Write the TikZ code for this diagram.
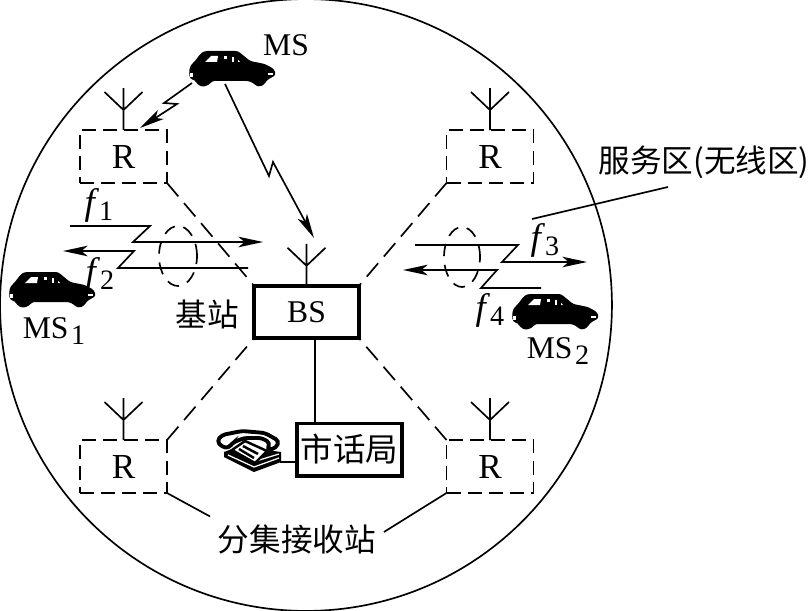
\documentclass[tikz,border=0pt]{standalone}
\usepackage{fontspec}
\setmainfont{Liberation Serif}
\newfontfamily\cjk{Noto Sans CJK SC}
\usepackage{tikz}
\usetikzlibrary{arrows.meta}
\newcommand{\subnum}[1]{\raisebox{-0.4ex}{\fontsize{16}{16}\selectfont #1}}
\tikzset{
    autoicon/.pic={
        \fill[rounded corners=1.5pt] (-43,4) -- (-42,-3) -- (-37,-8) -- (-31,-16) -- (-27,-18) -- (6,-18) -- (18,-8) -- (33,-5) -- (42,0) -- (44,6) -- (35,11) -- (32,16) -- (26,18) -- (21,14) -- (17,12) -- (-20,12) -- (-23,16) -- (-30,18) -- (-35,15) -- (-37,11) -- (-42,10) -- cycle;
        \fill[white] (-27,-7) -- (-21,-13) -- (-14,-13) -- (-15,-7) -- cycle;
        \fill[white] (-8,-13) -- (-5,-13) -- (-5,-10) -- (-8,-10) -- cycle;
        \fill[white] (0,-12) -- (2,-12) -- (2,-7) -- (0,-7) -- cycle;
        \fill[white] (6,-9) -- (8,-7) -- (6,-7) -- cycle;
        \fill[white] (36,4) -- (41,4) -- (41,6) -- (36,6) -- cycle;
        \fill[white] (-42,4) -- (-39,4) -- (-39,8) -- (-42,8) -- cycle;
    },
    phoneicon/.pic={
        \fill (-24,0) -- (-16,-3) -- (19,-2) -- (33,0) -- (33,10) -- (6,20) -- (-24,5) -- cycle;
        \draw[white, line width=0.7pt] (-20,3) -- (6,15) -- (31,6) (8,9) -- (31,2);
        \draw[fill=white, line width=1.4pt] (-16,-2) -- (-3,-11) -- (19,-1) -- (7,11) -- cycle;
        \draw[line width=1.4pt] (-9,-3) -- (6,6) (-5,-6) -- (10,2);
        \draw[fill=white, line width=2.2pt, rounded corners=2pt] (-31,-11) -- (-26,-17) -- (-6,-21) -- (17,-19) -- (31,-11) -- (28,-4) -- (19,-2) -- (22,-9) -- (14,-14) -- (-4,-14) -- (-16,-9) -- (-19,-4) -- (-26,-5) -- cycle;
    }
}

\begin{document}
\begin{tikzpicture}[x=0.02cm, y=-0.02cm, line width=0.95pt, font=\fontsize{18}{18}\selectfont,
    rbox/.style={draw, dash pattern=on 8pt off 4pt, minimum width=1.74cm, minimum height=1.06cm, inner sep=0pt, outer sep=0pt, font=\fontsize{20}{20}\selectfont},
    bbox/.style={draw, line width=2pt, minimum width=2.1cm, minimum height=1.05cm, inner sep=0pt, outer sep=0pt},
    backhaul/.style={dash pattern=on 10pt off 5pt},
    radio/.style={-{Stealth[length=14pt, width=6pt, inset=3.5pt]}},
    beam/.style={dash pattern=on 7pt off 5pt},
    txt/.style={inner sep=0pt},
    fsym/.style={inner sep=0pt, font=\fontsize{21}{21}\selectfont}]
    \useasboundingbox (0,0) rectangle (811,611);
    \draw (306,305) circle[radius=6.12cm];

    \node[rbox] (RA) at (123.5,156.5) {R};
    \node[rbox] (RB) at (490,156.5) {R};
    \node[rbox] (RC) at (123.5,466.5) {R};
    \node[rbox] (RD) at (490,466.5) {R};
    \node[bbox] (BS) at (306.5,312) {BS};
    \node[bbox] (CO) at (349.5,449.5) {\cjk\fontsize{18.5}{18}\selectfont 市话局};
    \node[txt, inner sep=4pt] (DIV) at (297,539) {\cjk 分集接收站};
    \node[txt] (BSL) at (207,314) {\cjk 基站};
    \node[txt] (AREA) at (704,162) {\cjk 服务区(无线区)};
    \node[txt] (MS) at (286,45) {MS};
    \node[txt] (MSA) at (54,331) {MS\kern1.5pt\subnum{1}};
    \node[txt] (MSB) at (558,351) {MS\kern1.5pt\subnum{2}};
    \node[fsym] (FA) at (99,205) {\textit{f}\subnum{1}};
    \node[fsym] (FB) at (100,274) {\textit{f}\subnum{2}};
    \node[fsym] (FC) at (545,240) {\textit{f}\subnum{3}};
    \node[fsym] (FD) at (490,310) {\textit{f}\subnum{4}};

    \pic at (232,69) {autoicon};
    \pic at (52,290) {autoicon};
    \pic at (555,312) {autoicon};
    \pic at (248,452) {phoneicon};

    \foreach \n in {RA,RB,RC,RD,BS}
        \draw (\n.north) -- ++(0,-42) ++(-19,4) -- ++(19,18) -- ++(19,-18);

    \draw[backhaul] (RA.south east) -- (BS.north west);
    \draw[backhaul] (RB.south west) -- (BS.north east);
    \draw[backhaul] (RC.north east) -- (BS.south west);
    \draw[backhaul] (RD.north west) -- (BS.south east);
    \draw (RC.south east) -- (DIV.north west);
    \draw (RD.south west) -- ([yshift=0.14cm]DIV.east);

    \coordinate (TELA) at (280,462);
    \draw (BS.south -| 315,0) -- (CO.north -| 315,0);
    \draw (TELA) -- (TELA -| CO.west);

    \coordinate (AREAT) at (668,187);
    \coordinate (AREAE) at (532,219);
    \draw (AREAT) -- (AREAE);

    \coordinate (MSR) at (192,83);
    \coordinate (RAT) at (140,128);
    \draw[radio] (MSR) -- ++(-28,20) -- ++(13,1) -- (RAT);
    \coordinate (MSC) at (225,84);
    \coordinate (BST) at (314,238);
    \draw[radio] (MSC) -- ++(44,92) -- ++(4,-14) -- (BST);

    \coordinate (AS) at (70,226);
    \coordinate (AE) at (263,242);
    \draw[radio] (AS) -- ++(80,0) -- ++(-17,16) -- (AE);
    \coordinate (BS2) at (248,268);
    \coordinate (BE) at (63,251);
    \draw[radio] (BS2) -- ++(-130,0) -- ++(16,-17) -- (BE);
    \coordinate (CS) at (415,245);
    \coordinate (CE) at (587,262);
    \draw[radio] (CS) -- ++(103,0) -- ++(-16,17) -- (CE);
    \coordinate (DS) at (541,288);
    \coordinate (DE) at (403,270);
    \draw[radio] (DS) -- ++(-60,0) -- ++(16,-18) -- (DE);

    \draw[beam] (178,256) ellipse[x radius=0.38cm, y radius=0.6cm];
    \draw[beam] (462,257) ellipse[x radius=0.36cm, y radius=0.6cm];
\end{tikzpicture}
\end{document}
